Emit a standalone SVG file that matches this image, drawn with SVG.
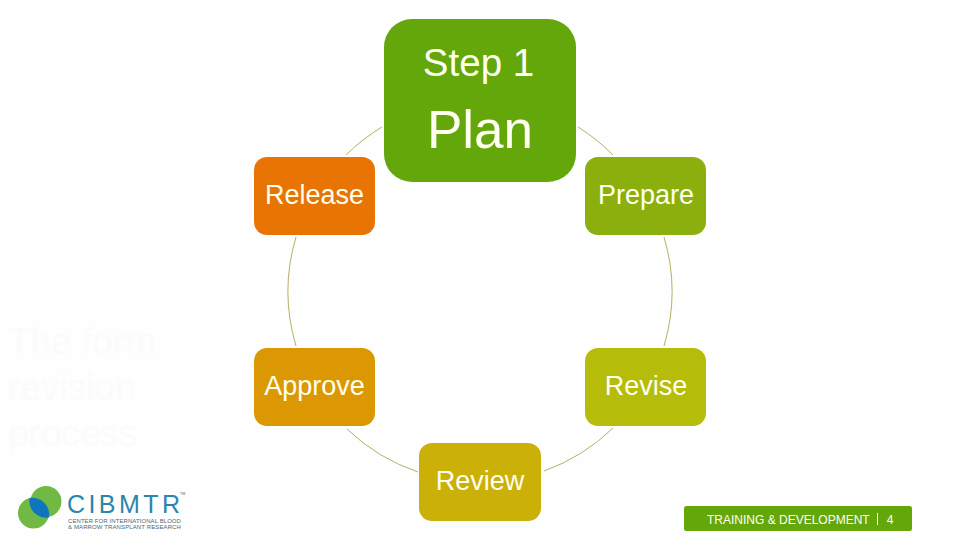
<svg xmlns="http://www.w3.org/2000/svg" width="960" height="540" viewBox="0 0 960 540">
<style>
text{font-family:"Liberation Sans",Arial,sans-serif;fill:#fffff0;text-anchor:middle}
.n{font-size:27px}
.arc{fill:none;stroke:#b5b060;stroke-width:1}
.ghost{fill:#fbfbfb;font-size:37px;text-anchor:start}
.sm{fill:#4d6670;font-size:6px;text-anchor:start;letter-spacing:.12px}
</style>
<rect width="960" height="540" fill="#fefefe"/>
<g id="title"><text class="ghost" x="8" y="354">The form</text><text class="ghost" x="8" y="400">revision</text><text class="ghost" x="8" y="446">process</text></g>
<g id="connectors">
<path class="arc" d="M382 127A190.500 190.500 0 0 0 346 155"/>
<path class="arc" d="M578 127A190.500 190.500 0 0 1 613 155"/>
<path class="arc" d="M296 237A190.500 190.500 0 0 0 296 346"/>
<path class="arc" d="M664 237A190.500 190.500 0 0 1 664 346"/>
<path class="arc" d="M347 429A190.500 190.500 0 0 0 418 472"/>
<path class="arc" d="M613 428A190.500 190.500 0 0 1 544 471"/>
</g>
<g id="plan"><rect x="384" y="19" width="192" height="163" rx="28" fill="#64a70b"/><text x="478.500" y="76" font-size="38.500">Step 1</text><text x="480" y="148" font-size="53">Plan</text></g>
<g id="prepare"><rect x="585" y="157" width="121" height="78" rx="13" fill="#8bb00e"/><text class="n" x="646" y="204">Prepare</text></g>
<g id="revise"><rect x="585" y="348" width="121" height="78" rx="13" fill="#b6bc0a"/><text class="n" x="646" y="395">Revise</text></g>
<g id="review"><rect x="419" y="443" width="122" height="78" rx="13" fill="#cbb008"/><text class="n" x="480" y="490">Review</text></g>
<g id="approve"><rect x="254" y="348" width="121" height="78" rx="13" fill="#dc9803"/><text class="n" x="314.500" y="395">Approve</text></g>
<g id="release"><rect x="254" y="157" width="121" height="78" rx="13" fill="#e87404"/><text class="n" x="314.500" y="204">Release</text></g>
<g id="logo">
<circle cx="46" cy="501.500" r="15.500" fill="#72b844"/><circle cx="33.500" cy="513" r="15.500" fill="#72b844"/>
<path d="M29.500 498A17 17 0 0 1 49 517.500A17 17 0 0 1 29.500 498Z" fill="#0f75bc"/>
<text x="67" y="512.500" font-size="25" textLength="113" lengthAdjust="spacing" style="fill:#2a86ad;text-anchor:start">CIBMTR</text>
<text x="180" y="495" font-size="3.500" style="fill:#4d6670;text-anchor:start">TM</text>
<text class="sm" x="68" y="523.300" textLength="113" lengthAdjust="spacingAndGlyphs">CENTER FOR INTERNATIONAL BLOOD</text>
<text class="sm" x="68" y="529.300" textLength="113" lengthAdjust="spacingAndGlyphs">&amp; MARROW TRANSPLANT RESEARCH</text>
</g>
<g id="footer"><rect x="684" y="506" width="228" height="25" rx="2.500" fill="#64a70b"/><text x="707" y="524" font-size="12" style="text-anchor:start">TRAINING &amp; DEVELOPMENT</text><rect x="877" y="513" width="1" height="12" fill="#fffff0"/><text x="890" y="524" font-size="12">4</text></g>
</svg>
